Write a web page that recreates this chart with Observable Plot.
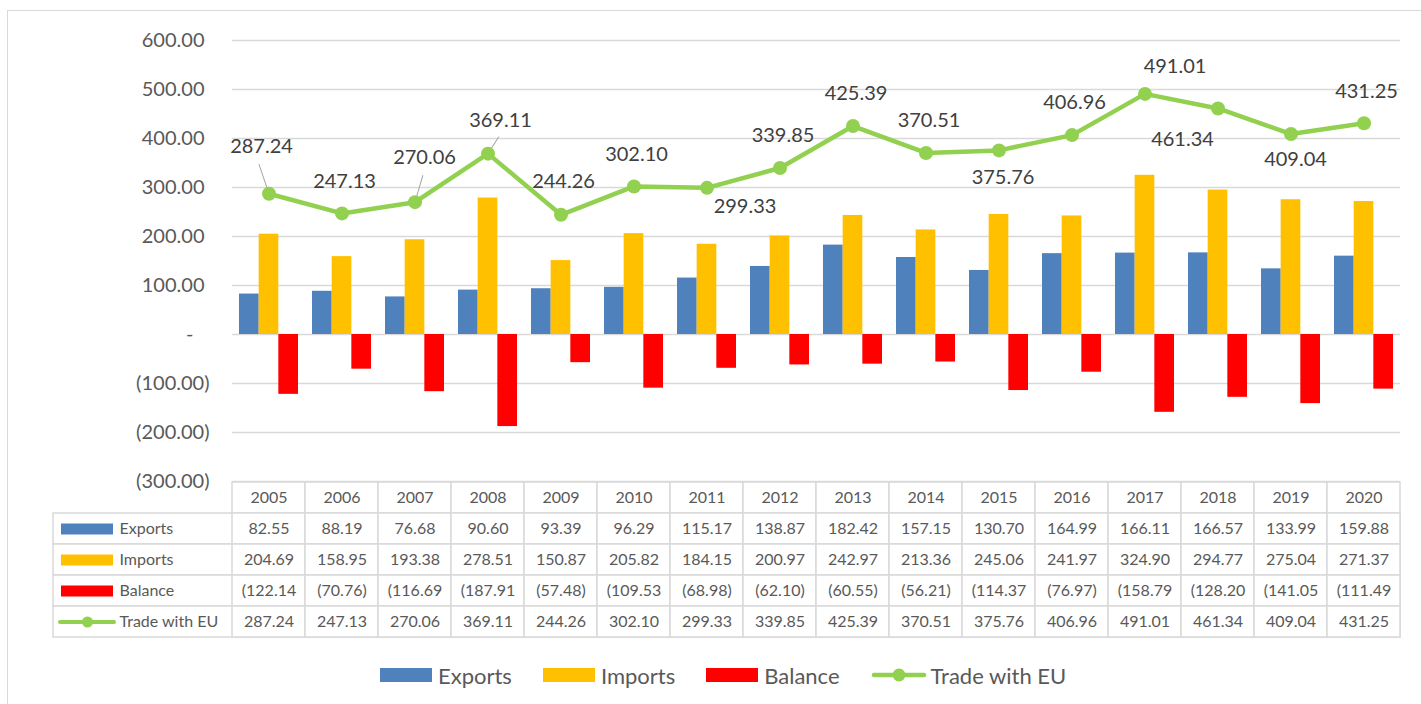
<!DOCTYPE html>
<html>
<head>
<meta charset="utf-8">
<script src="https://cdn.jsdelivr.net/npm/d3@7"></script>
<script src="https://cdn.jsdelivr.net/npm/@observablehq/plot@0.6"></script>
<style>
  html, body { margin: 0; padding: 0; background: #fff; }
  body { width: 1421px; height: 704px; position: relative; overflow: hidden; font-family: Lato, "Open Sans", sans-serif; }
  #frame { position: absolute; left: 7px; top: 10px; width: 1500px; height: 800px; border: 1px solid #d9d9d9; box-sizing: border-box; z-index: 10; pointer-events: none; }
  #chart { position: absolute; left: 0; top: 0; }
  #table { position: absolute; left: 0; top: 471px; }
  #legend { position: absolute; left: 380px; top: 662px; height: 26px; display: flex; align-items: center; font-size: 22px; color: #595959; white-space: nowrap; }
  .item { display: flex; align-items: center; margin-right: 31px; }
  .sw { width: 52px; height: 14px; margin-right: 6px; }
  .lsw { width: 56px; height: 14px; margin-right: 4px; }
</style>
</head>
<body>
<div id="frame"></div>
<div id="chart"></div>
<div id="table"></div>
<div id="legend"></div>
<script>
// ---------- data ----------
const years = ["2005","2006","2007","2008","2009","2010","2011","2012","2013","2014","2015","2016","2017","2018","2019","2020"];
const exportsV = [82.55, 88.19, 76.68, 90.60, 93.39, 96.29, 115.17, 138.87, 182.42, 157.15, 130.70, 164.99, 166.11, 166.57, 133.99, 159.88];
const importsV = [204.69, 158.95, 193.38, 278.51, 150.87, 205.82, 184.15, 200.97, 242.97, 213.36, 245.06, 241.97, 324.90, 294.77, 275.04, 271.37];
const balanceV = [-122.14, -70.76, -116.69, -187.91, -57.48, -109.53, -68.98, -62.10, -60.55, -56.21, -114.37, -76.97, -158.79, -128.20, -141.05, -111.49];
const tradeEU = [287.24, 247.13, 270.06, 369.11, 244.26, 302.10, 299.33, 339.85, 425.39, 370.51, 375.76, 406.96, 491.01, 461.34, 409.04, 431.25];
const seriesNames = ["Exports", "Imports", "Balance", "Trade with EU"];
const yTicks = [-300, -200, -100, 0, 100, 200, 300, 400, 500, 600];

// ---------- style / layout config ----------
const colors = {"Exports": "#4F81BD", "Imports": "#FFC000", "Balance": "#FF0000", "Trade with EU": "#92D050"};
const textColor = "#595959";
const gridColor = "#d9d9d9";
const W = 1421, ML = 232, MR = 21;
// data label offsets (px) relative to each point, as placed in the original
const labelOffsets = {
  "2005": [-7.5, -47], "2006": [2.5, -32], "2007": [9.5, -45], "2008": [12.5, -33],
  "2009": [2.5, -33], "2010": [2.5, -32], "2011": [38, 19], "2012": [3, -32],
  "2013": [3, -32], "2014": [3, -32], "2015": [4, 27], "2016": [2.5, -32],
  "2017": [30, -27], "2018": [-35.5, 31], "2019": [4.5, 26], "2020": [2.5, -32]
};
// leader lines: [length px, angle deg clockwise from up]
const leaders = {"2005": [31, -18.8], "2007": [27.8, 16.3], "2008": [19.7, 32.6]};

// ---------- formats ----------
function fmtAcct(v) {
  if (v === 0) return "-";
  return v < 0 ? "(" + Math.abs(v).toFixed(2) + ")" : v.toFixed(2);
}
function fmtCell(v) {
  const s = fmtAcct(v);
  return s.length > 7 ? s.slice(0, 7) : s; // cell too narrow: text clipped as in the original
}

const rows = years.map((year, i) => ({
  year, exports: exportsV[i], imports: importsV[i], balance: balanceV[i], trade: tradeEU[i]
}));

const bw = (W - ML - MR) / years.length;
const gap = 7;
const barW = (bw - 2 * gap) / 3;

// ---------- main chart ----------
const labelMarks = rows.map(d => Plot.text([d], {
  x: "year", y: "trade", text: r => fmtAcct(r.trade),
  dx: labelOffsets[d.year][0], dy: labelOffsets[d.year][1],
  fontSize: 20, fill: "#404040"
}));
const leaderMarks = rows.filter(d => leaders[d.year]).map(d => Plot.vector([d], {
  x: "year", y: "trade", length: leaders[d.year][0], rotate: leaders[d.year][1],
  anchor: "start", stroke: "#a6a6a6", strokeWidth: 1,
  shape: {draw(context, l) { context.moveTo(0, 0); context.lineTo(0, -l); }}
}));

const chart = Plot.plot({
  width: W, height: 500,
  marginLeft: ML, marginRight: MR, marginTop: 40, marginBottom: 19,
  x: {type: "band", domain: years, padding: 0, axis: null},
  y: {domain: [-300, 600], axis: null},
  style: {fontFamily: "Lato, 'Open Sans', sans-serif", background: "transparent", overflow: "visible"},
  marks: [
    Plot.ruleY(yTicks, {stroke: gridColor, strokeWidth: 1.5}),
    Plot.text(yTicks.filter(v => v > 0), {y: d => d, text: fmtAcct, frameAnchor: "left", textAnchor: "end", dx: -28, fontSize: 20, fill: textColor}),
    Plot.text(yTicks.filter(v => v < 0), {y: d => d, text: fmtAcct, frameAnchor: "left", textAnchor: "end", dx: -23, fontSize: 20, fill: textColor}),
    Plot.text(yTicks.filter(v => v === 0), {y: d => d, text: fmtAcct, frameAnchor: "left", textAnchor: "end", dx: -39, fontSize: 20, fill: textColor}),
    Plot.barY(rows, {x: "year", y: "exports", fill: colors["Exports"], insetLeft: gap, insetRight: gap + 2 * barW}),
    Plot.barY(rows, {x: "year", y: "imports", fill: colors["Imports"], insetLeft: gap + barW, insetRight: gap + barW}),
    Plot.barY(rows, {x: "year", y: "balance", fill: colors["Balance"], insetLeft: gap + 2 * barW, insetRight: gap}),
    ...leaderMarks,
    Plot.line(rows, {x: "year", y: "trade", stroke: colors["Trade with EU"], strokeWidth: 4.5}),
    Plot.dot(rows, {x: "year", y: "trade", r: 7, fill: colors["Trade with EU"]}),
    ...labelMarks
  ]
});
document.getElementById("chart").append(chart);

// ---------- data table ----------
const tableRows = ["header", ...seriesNames];
const valuesBySeries = {"Exports": exportsV, "Imports": importsV, "Balance": balanceV, "Trade with EU": tradeEU};
const cells = [];
for (const r of tableRows) years.forEach((y, i) => cells.push({year: y, row: r}));
const valueCells = [];
for (const s of seriesNames) years.forEach((y, i) => valueCells.push({year: y, row: s, value: valuesBySeries[s][i]}));

const TL = 53; // left edge of table label column
const tableRight = W - MR;
const table = Plot.plot({
  width: W, height: 177,
  marginLeft: TL, marginRight: MR, marginTop: 10, marginBottom: 10,
  x: {type: "band", domain: years, range: [ML, tableRight], padding: 0, axis: null},
  y: {type: "band", domain: tableRows, padding: 0, axis: null},
  style: {fontFamily: "Lato, 'Open Sans', sans-serif", background: "transparent", overflow: "visible"},
  marks: [
    Plot.cell(seriesNames, {y: d => d, fill: "white", stroke: gridColor, strokeWidth: 1.5, inset: 0}),
    Plot.cell(cells, {x: "year", y: "row", fill: "white", stroke: gridColor, strokeWidth: 1.5, inset: 0}),
    Plot.text(years, {x: d => d, y: () => "header", text: d => d, fontSize: 16, fill: textColor}),
    Plot.text(valueCells, {x: "year", y: "row", text: d => fmtCell(d.value), fontSize: 16, fill: textColor}),
    Plot.text(seriesNames, {y: d => d, text: d => d, frameAnchor: "left", textAnchor: "start", dx: 66, fontSize: 16, fill: textColor}),
    Plot.ruleY(seriesNames.slice(0, 3), {y: d => d, stroke: d => colors[d], strokeWidth: 11, insetLeft: 8, insetRight: tableRight - 113}),
    Plot.ruleY(seriesNames.slice(3), {y: d => d, stroke: colors["Trade with EU"], strokeWidth: 4, strokeLinecap: "round", insetLeft: 7, insetRight: tableRight - 114}),
    Plot.dot(seriesNames.slice(3), {y: d => d, frameAnchor: "left", dx: 34, r: 5.5, fill: colors["Trade with EU"]})
  ]
});
document.getElementById("table").append(table);

// ---------- legend ----------
const legend = document.getElementById("legend");
seriesNames.forEach(name => {
  const item = document.createElement("div");
  item.className = "item";
  if (name === "Trade with EU") {
    const ns = "http://www.w3.org/2000/svg";
    const svg = document.createElementNS(ns, "svg");
    svg.setAttribute("width", 56); svg.setAttribute("height", 14);
    svg.setAttribute("class", "lsw");
    const ln = document.createElementNS(ns, "line");
    ln.setAttribute("x1", 3); ln.setAttribute("x2", 53); ln.setAttribute("y1", 7); ln.setAttribute("y2", 7);
    ln.setAttribute("stroke", colors[name]); ln.setAttribute("stroke-width", 4.5); ln.setAttribute("stroke-linecap", "round");
    const c = document.createElementNS(ns, "circle");
    c.setAttribute("cx", 28); c.setAttribute("cy", 7); c.setAttribute("r", 6.5); c.setAttribute("fill", colors[name]);
    svg.append(ln, c);
    item.append(svg);
  } else {
    const sw = document.createElement("div");
    sw.className = "sw";
    sw.style.background = colors[name];
    item.append(sw);
  }
  const t = document.createElement("span");
  t.textContent = name;
  item.append(t);
  legend.append(item);
});
</script>
</body>
</html>
